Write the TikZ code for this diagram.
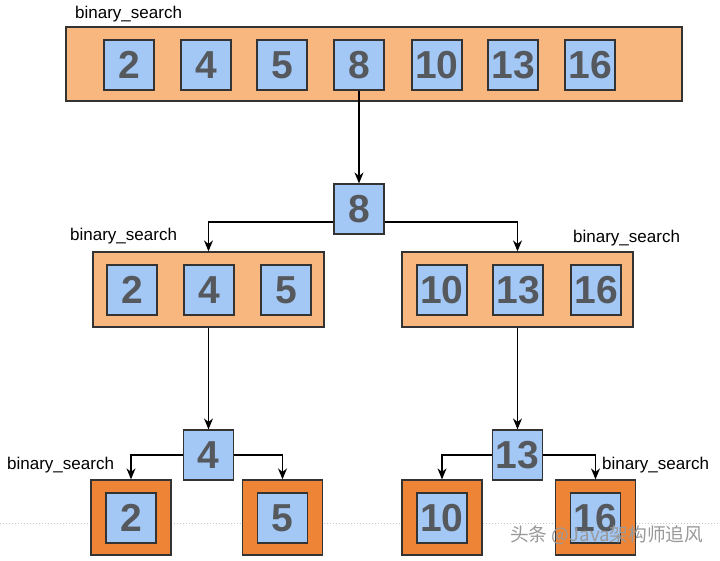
\documentclass[tikz,border=0pt]{standalone}
\usepackage{fontspec}
\setmainfont{Liberation Sans}
\newfontfamily\cjkfont{Noto Sans CJK SC}
\usetikzlibrary{arrows.meta}
\definecolor{peach}{HTML}{F7B77E}
\definecolor{cellblue}{HTML}{A3C8F5}
\definecolor{darkorange}{HTML}{EE8536}
\definecolor{digit}{HTML}{55585C}
\definecolor{edge}{HTML}{333333}
\tikzset{
  group/.style={draw=edge, line width=1.3pt, fill=peach, inner sep=0pt},
  leafbox/.style={draw=edge, line width=1.3pt, fill=darkorange, minimum width=80pt, minimum height=75pt, inner sep=0pt},
  cell/.style={draw=edge, line width=1.2pt, fill=cellblue, minimum width=50pt, minimum height=50pt, inner sep=0pt,
    font=\fontsize{39}{39}\selectfont\bfseries, text=digit},
  lbl/.style={font=\fontsize{17}{17}\selectfont, text=black, inner sep=0pt, anchor=west},
  arr/.style={draw=black, line width=1.2pt, -{Stealth[length=11pt,width=9pt]}},
}
\begin{document}
\begin{tikzpicture}[x=1pt,y=-1pt]
\useasboundingbox[fill=white] (0,0) rectangle (720,561);
% dotted page line
\draw[gray!45, dotted, line width=1pt] (0,523) -- (720,523);
% top group
\node[group, minimum width=616pt, minimum height=74pt] (top) at (374,64) {};
\node[cell] (t2) at (129,65) {2};
\node[cell] (t4) at (206,65) {4};
\node[cell] (t5) at (282,65) {5};
\node[cell] (t8) at (359,65) {8};
\node[cell] (t10) at (437,65) {10};
\node[cell] (t13) at (513,65) {13};
\node[cell] (t16) at (590,65) {16};
\node[lbl] (ltop) at (75,14) {binary\_search};
% middle pivot
\node[cell] (m8) at (359,209) {8};
% left group
\node[group, minimum width=231pt, minimum height=75pt] (lbox) at (208.5,289.5) {};
\node[cell] (l2) at (132,290) {2};
\node[cell] (l4) at (209,290) {4};
\node[cell] (l5) at (286,290) {5};
\node[lbl] (lleft) at (70,236) {binary\_search};
% right group
\node[group, minimum width=231pt, minimum height=75pt] (rbox) at (517.5,289.5) {};
\node[cell] (r10) at (442,290) {10};
\node[cell] (r13) at (518,290) {13};
\node[cell] (r16) at (596,290) {16};
\node[lbl] (lright) at (573,238) {binary\_search};
% lower pivots
\node[cell] (n4) at (208.5,455) {4};
\node[cell] (n13) at (517.5,455) {13};
% leaves
\node[leafbox] (b2) at (131,517.5) {};
\node[cell] (c2) at (131,518) {2};
\node[leafbox] (b5) at (282.5,517.5) {};
\node[cell] (c5) at (282.5,518) {5};
\node[leafbox] (b10) at (442,517.5) {};
\node[cell] (c10) at (442,518) {10};
\node[leafbox] (b16) at (595.5,517.5) {};
\node[cell] (c16) at (595.5,518) {16};
\node[lbl] (lbl4) at (7,465) {binary\_search};
\node[lbl] (lbr) at (602,465) {binary\_search};
% connectors
\draw[arr] (t8.south) -- (m8.north);
\draw[arr] ([yshift=-13pt]m8.west) -| (lbox.north);
\draw[arr] ([yshift=-13pt]m8.east) -| (rbox.north);
\draw[arr] (lbox.south) -- (n4.north);
\draw[arr] (rbox.south) -- (n13.north);
\draw[arr] (n4.west) -| (b2.north);
\draw[arr] (n4.east) -| (b5.north);
\draw[arr] (n13.west) -| (b10.north);
\draw[arr] (n13.east) -| (b16.north);
% watermark
\node[font=\cjkfont\fontsize{18.7}{18.7}\selectfont, text=gray!80, inner sep=0pt, anchor=west] (wm) at (510,535) {头条 @Java架构师追风};
\end{tikzpicture}
\end{document}
